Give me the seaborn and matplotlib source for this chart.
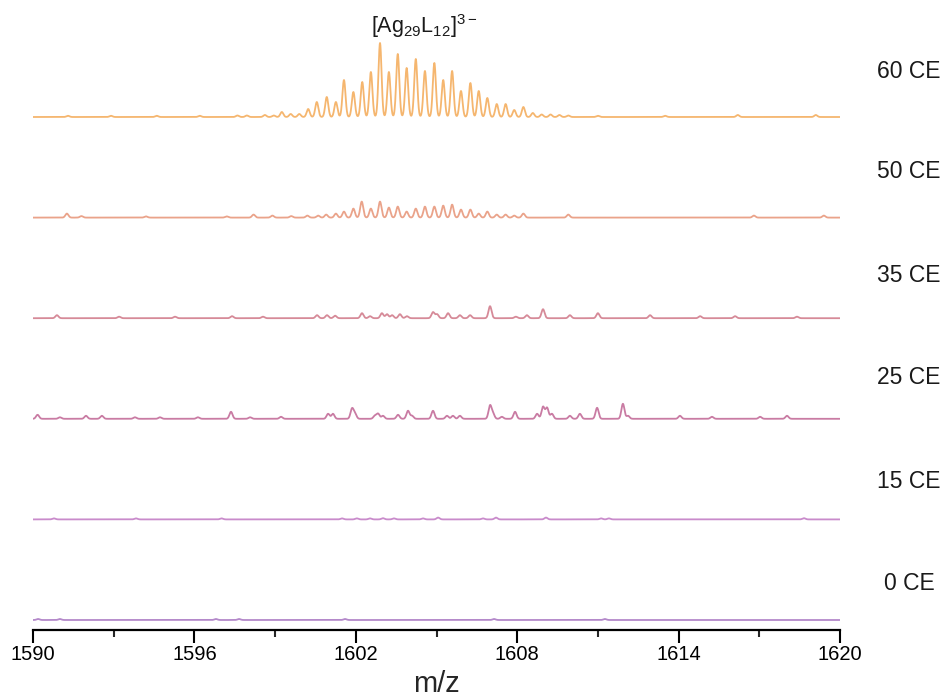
import numpy as np
import pandas as pd
import matplotlib
matplotlib.use("Agg")
import matplotlib.pyplot as plt
from matplotlib.ticker import MultipleLocator
import seaborn as sns

# ---------------- data (centroid peak lists) ----------------
labels = ["0 CE", "15 CE", "25 CE", "35 CE", "50 CE", "60 CE"]

mz_0 = [1590.19, 1591.0, 1596.8, 1597.66, 1601.6, 1607.14, 1611.26]
int_0 = [1.0, 1.0, 1.0, 1.0, 1.0, 1.0, 1.0]

mz_15 = [1590.78, 1593.83, 1597.01, 1601.49, 1602.04, 1602.53, 1603.01, 1603.42,
         1604.5, 1605.06, 1606.73, 1607.21, 1609.07, 1611.12, 1611.41, 1618.66]
int_15 = [1.0, 1.0, 1.0, 1.0, 1.0, 1.0, 1.2, 1.0,
          1.0, 1.8, 1.0, 1.8, 1.8, 1.0, 1.0, 1.2]

mz_25 = [1590.17, 1591.0, 1591.97, 1592.56, 1593.79, 1594.72, 1596.13, 1597.36,
         1598.07, 1599.22, 1600.97, 1601.15, 1601.86, 1601.97, 1602.71, 1602.83,
         1603.01, 1603.57, 1603.94, 1604.09, 1604.87, 1605.39, 1605.61, 1605.87,
         1606.99, 1607.1, 1607.43, 1607.92, 1608.74, 1608.96, 1609.11, 1609.29,
         1609.96, 1610.33, 1610.97, 1611.93, 1612.12, 1614.05, 1615.24, 1617.03,
         1618.03]
int_25 = [4, 1.5, 3, 3, 1.5, 1.5, 1.5, 7,
          1.5, 2, 5, 5, 10, 5, 3, 5,
          3, 4, 8, 3, 8, 3, 3, 3,
          13, 5, 2, 7, 5, 12, 11, 5,
          3, 5, 11, 15, 3, 3, 2, 2,
          3]

mz_35 = [1590.89, 1593.2, 1595.28, 1597.4, 1598.55, 1600.56, 1600.93, 1601.23,
         1602.23, 1602.53, 1602.97, 1603.16, 1603.35, 1603.64, 1603.9, 1604.87,
         1605.02, 1605.43, 1605.87, 1606.25, 1606.99, 1607.95, 1608.36, 1608.96,
         1609.96, 1611.0, 1612.94, 1614.8, 1616.1, 1618.4]
int_35 = [3, 1.5, 1.5, 2, 1.5, 3, 3, 2.5,
          5, 2, 5, 4, 3, 4, 2, 6,
          4, 5, 3, 3, 12, 1.5, 3, 9,
          3, 5, 3, 2, 2, 1.5]

mz_50 = [1591.26, 1591.8, 1594.2, 1597.2, 1598.2, 1598.9, 1599.6, 1600.2,
         1600.6, 1600.9, 1601.26, 1601.56, 1601.91, 1602.22, 1602.56, 1602.90,
         1603.23, 1603.56, 1603.89, 1604.23, 1604.57, 1604.92, 1605.25, 1605.58,
         1605.91, 1606.26, 1606.57, 1606.89, 1607.24, 1607.57, 1607.89, 1608.23,
         1609.9, 1616.8, 1619.4]
int_50 = [4, 1.5, 1.2, 1.2, 3, 2, 1.5, 2,
          2, 3, 4, 6, 9, 16, 9, 16,
          10, 11, 6, 9, 11, 11, 12, 13,
          8, 8, 4, 6, 3, 3, 2, 4,
          3, 2, 2]

mz_60 = [1591.3, 1592.9, 1594.6, 1596.2, 1597.6, 1597.95, 1598.62, 1598.95,
         1599.25, 1599.58, 1599.90, 1600.23, 1600.55, 1600.92, 1601.26, 1601.56,
         1601.91, 1602.24, 1602.56, 1602.90, 1603.23, 1603.56, 1603.89, 1604.23,
         1604.57, 1604.92, 1605.25, 1605.58, 1605.91, 1606.26, 1606.57, 1606.89,
         1607.24, 1607.57, 1607.89, 1608.23, 1608.58, 1608.91, 1609.24, 1609.57,
         1609.9, 1611.0, 1613.5, 1616.2, 1619.1]
int_60 = [1.2, 1.2, 1.2, 1.2, 1.5, 1.5, 2, 1.5,
          5, 3, 3, 8, 15, 20, 15, 37,
          25, 35, 45, 74, 45, 63, 49, 58,
          46, 54, 37, 46, 26, 34, 26, 19,
          13, 13, 7, 10, 4, 2.5, 2.5, 2,
          1.5, 1.2, 1.2, 2, 2]

mz_lists = [mz_0, mz_15, mz_25, mz_35, mz_50, mz_60]
int_lists = [int_0, int_15, int_25, int_35, int_50, int_60]

colors = ["#B489CA", "#C98BCB", "#C97BA3", "#D68A98", "#EAA38A", "#F5B66F"]

title_text = r"[Ag$_{29}$L$_{12}$]$^{3-}$"
x_ticks = [1590, 1596, 1602, 1608, 1614, 1620]

# ---------------- figure ----------------
sns.set_style("white")
plt.rcParams["font.family"] = ["Liberation Sans", "DejaVu Sans"]
plt.rcParams["mathtext.fontset"] = "custom"
plt.rcParams["mathtext.rm"] = "Liberation Sans"
plt.rcParams["mathtext.it"] = "Liberation Sans"

W, H = 951, 698
fig = plt.figure(figsize=(W / 100, H / 100), dpi=100)
ax_left, ax_right, ax_top, ax_bottom = 33, 840, 30, 630
ax = fig.add_axes([ax_left / W, 1 - ax_bottom / H, (ax_right - ax_left) / W,
                   (ax_bottom - ax_top) / H])

grid = np.linspace(1590, 1620, 6001)
sigma = 0.057
offset0, spacing = 10, 100.6

label_y_px = [583, 481, 378, 275, 172, 72]

for i, (mzs, ints) in enumerate(zip(mz_lists, int_lists)):
    m = np.asarray(mzs)[:, None]
    h = np.asarray(ints)[:, None]
    prof = (h * np.exp(-0.5 * ((grid[None, :] - m) / sigma) ** 2)).sum(axis=0)
    y = prof + offset0 + i * spacing
    df = pd.DataFrame({"mz": grid, "y": y})
    sns.lineplot(data=df, x="mz", y="y", color=colors[i], linewidth=1.3,
                 estimator=None, ax=ax)
    fig.text(909 / W, 1 - label_y_px[i] / H, labels[i], ha="center",
             va="center", fontsize=16.5, color="#1a1a1a")

ax.set_xlim(1590, 1620)
ax.set_ylim(0, ax_bottom - ax_top)
ax.set_xticks(x_ticks)
ax.set_xticklabels([str(t) for t in x_ticks])
ax.xaxis.set_minor_locator(MultipleLocator(3))
ax.tick_params(axis="x", which="major", direction="out", length=9, width=1.5,
               labelsize=14.5, pad=2, colors="black", bottom=True)
ax.tick_params(axis="x", which="minor", direction="out", length=5, width=1.5,
               bottom=True)
ax.set_yticks([])
ax.set_ylabel("")
ax.set_xlabel("m/z", fontsize=21, labelpad=4)
for s in ["left", "top", "right"]:
    ax.spines[s].set_visible(False)
ax.spines["bottom"].set_linewidth(1.6)
ax.spines["bottom"].set_color("black")

fig.text(424 / W, 1 - 26 / H, title_text, ha="center", va="center",
         fontsize=15.5, color="#1a1a1a")

fig.savefig("out.png", dpi=100)
